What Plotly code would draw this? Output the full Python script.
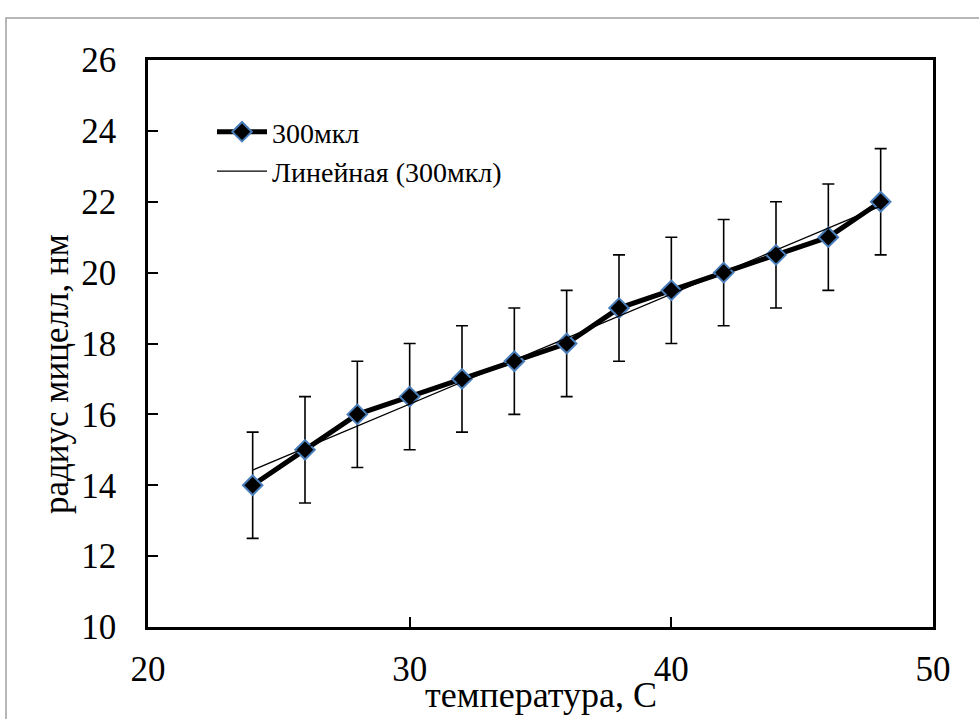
import numpy as np
import plotly.graph_objects as go

# temperature (C) and micelle radius (nm)
temperature = [24, 26, 28, 30, 32, 34, 36, 38, 40, 42, 44, 46, 48]
radius = [14, 15, 16, 16.5, 17, 17.5, 18, 19, 19.5, 20, 20.5, 21, 22]
radius_err = [1.5] * len(radius)

x_ticks = [20, 30, 40, 50]
y_ticks = [10, 12, 14, 16, 18, 20, 22, 24, 26]

series_name = "300мкл"
trend_name = "Линейная (300мкл)"
x_title = "температура, С"
y_title = "радиус мицелл, нм"

# least-squares linear trend
slope, intercept = np.polyfit(temperature, radius, 1)
trend_x = [temperature[0], temperature[-1]]
trend_y = [slope * t + intercept for t in trend_x]

FONT = "Liberation Serif"
W, H = 979, 719
L, R, T, B = 148, 46, 60, 92
PLOT_W = W - L - R
PLOT_H = H - T - B


def px_x(px):
    return (px - L) / PLOT_W


def px_y(py):
    return (T + PLOT_H - py) / PLOT_H


fig = go.Figure()
fig.add_trace(go.Scatter(
    x=temperature, y=radius, name=series_name, mode="lines+markers",
    line=dict(color="black", width=5),
    marker=dict(symbol="diamond", size=15, color="black",
                line=dict(color="#4a7ebb", width=2)),
    error_y=dict(type="data", array=radius_err, visible=True,
                 color="black", thickness=1.6, width=6),
))
fig.add_trace(go.Scatter(
    x=trend_x, y=trend_y, name=trend_name, mode="lines",
    line=dict(color="black", width=1.3),
))

fig.update_layout(
    width=W, height=H,
    margin=dict(l=L, r=R, t=T, b=B, autoexpand=False),
    paper_bgcolor="white", plot_bgcolor="white",
    font=dict(family=FONT, color="black"),
    showlegend=True,
    legend=dict(x=px_x(212), y=px_y(107), xanchor="left", yanchor="top",
                font=dict(size=28, family=FONT), bgcolor="rgba(0,0,0,0)",
                tracegroupgap=0, itemwidth=50),
    xaxis=dict(range=[20, 50], tickvals=x_ticks, ticks="inside", ticklen=10,
               tickwidth=2, tickcolor="black", showline=True, linewidth=2.5,
               linecolor="black", mirror=True, showgrid=False, zeroline=False,
               tickfont=dict(size=35, family=FONT), ticklabelstandoff=9,
               automargin=False),
    yaxis=dict(range=[10, 26], tickvals=y_ticks, ticks="inside", ticklen=10,
               tickwidth=2, tickcolor="black", showline=True, linewidth=2.5,
               linecolor="black", mirror=True, showgrid=False, zeroline=False,
               tickfont=dict(size=35, family=FONT), ticklabelstandoff=22,
               automargin=False),
)

# axis titles
fig.add_annotation(text=x_title, xref="paper", yref="paper",
                   x=0.5, y=px_y(695), xanchor="center", yanchor="middle",
                   showarrow=False, font=dict(size=36, family=FONT, color="black"))
fig.add_annotation(text=y_title, xref="paper", yref="paper",
                   x=px_x(56), y=px_y(374), xanchor="center", yanchor="middle",
                   textangle=-90, showarrow=False,
                   font=dict(size=35, family=FONT, color="black"))

# thin grey frame around the chart area
fig.add_shape(type="rect", xref="paper", yref="paper",
              x0=px_x(6), x1=px_x(990), y0=px_y(730), y1=px_y(18),
              line=dict(color="#a0a0a0", width=1.5), layer="below")

fig.write_html("out.html")
